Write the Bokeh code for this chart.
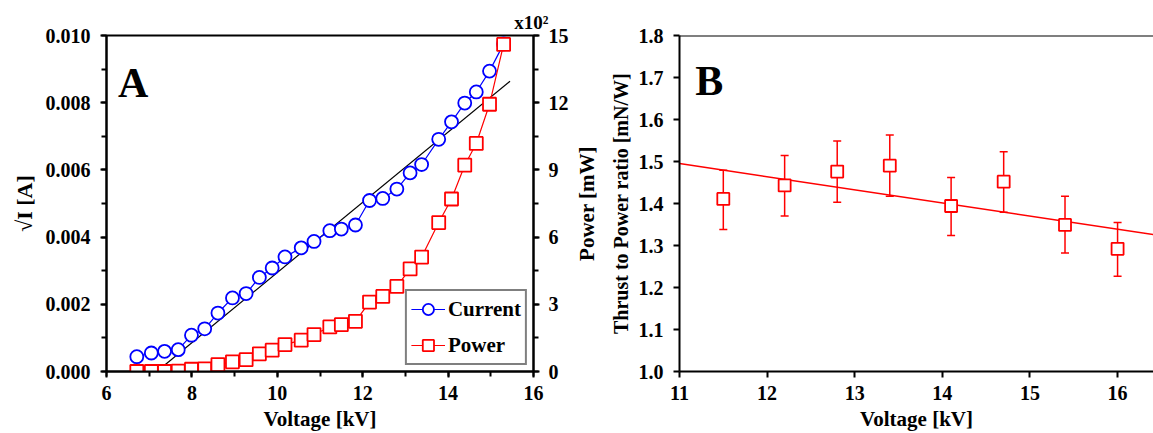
from bokeh.plotting import figure
from bokeh.layouts import row
from bokeh.models import (LinearAxis, Range1d, SingleIntervalTicker, FixedTicker,
                          PrintfTickFormatter, Legend, LegendItem, Label, Span,
                          Whisker, TeeHead, ColumnDataSource)
from bokeh.embed import file_html
from bokeh.resources import INLINE

# ---------------- Panel A data ----------------
voltage_a = [6.71, 7.05, 7.36, 7.68, 7.99, 8.30, 8.61, 8.95, 9.27, 9.58, 9.88, 10.18,
             10.56, 10.86, 11.23, 11.50, 11.83, 12.16, 12.47, 12.80, 13.11, 13.38,
             13.78, 14.08, 14.39, 14.66, 14.97, 15.30]
sqrt_current = [0.00044, 0.00055, 0.00060, 0.00065, 0.00108, 0.00127, 0.00174, 0.00219,
                0.00232, 0.00280, 0.00308, 0.00341, 0.00368, 0.00387, 0.00419, 0.00424,
                0.00436, 0.00509, 0.00515, 0.00543, 0.00591, 0.00616, 0.00691, 0.00743,
                0.00799, 0.00832, 0.00894, 0.00975]
power_mw = [0, 0, 0, 2, 10, 12, 31, 43, 53, 79, 95, 120, 140, 165, 199, 209, 224,
            310, 335, 380, 458, 511, 665, 770, 921, 1018, 1193, 1460]
fit_a_v = [7.18, 15.45]
fit_a_i = [0.0, 0.00864]

# ---------------- Panel B data ----------------
voltage_b = [11.5, 12.2, 12.8, 13.4, 14.1, 14.7, 15.4, 16.0]
ratio_b = [1.411, 1.443, 1.476, 1.490, 1.394, 1.452, 1.349, 1.292]
ratio_hi = [1.479, 1.514, 1.549, 1.563, 1.462, 1.523, 1.417, 1.355]
ratio_lo = [1.338, 1.370, 1.403, 1.417, 1.324, 1.379, 1.282, 1.227]
fit_b_v = [11.0, 16.6]
fit_b_r = [1.495, 1.320]

FONT = "Liberation Serif"
FS = "20px"
BLUE = "#0000FF"
RED = "#FF0000"


def style_axis(ax, minor=True):
    ax.axis_line_width = 2
    ax.axis_line_color = "black"
    ax.major_tick_line_width = 2
    ax.major_tick_out = 6
    ax.major_tick_in = 0
    if minor:
        ax.minor_tick_line_width = 2
        ax.minor_tick_out = 5
        ax.minor_tick_in = 0
    else:
        ax.minor_tick_line_color = None
    ax.major_label_text_font = FONT
    ax.major_label_text_font_style = "bold"
    ax.major_label_text_font_size = FS
    ax.major_label_text_color = "black"
    ax.axis_label_text_font = FONT
    ax.axis_label_text_font_style = "bold"
    ax.axis_label_text_font_size = "21px"
    ax.axis_label_text_color = "black"


# ================= Panel A =================
pa = figure(width=571, height=433, output_backend="svg", toolbar_location=None,
            x_range=Range1d(6, 16), y_range=Range1d(0, 0.010),
            min_border_left=106, min_border_right=35, min_border_top=35,
            min_border_bottom=61)
pa.grid.visible = False
pa.outline_line_color = "black"
pa.outline_line_width = 2
pa.background_fill_color = "white"
pa.border_fill_color = "white"

pa.title.text = "x10²"
pa.title.align = "right"
pa.title.offset = -15
pa.title.standoff = 6
pa.title.text_font = FONT
pa.title.text_font_style = "bold"
pa.title.text_font_size = "19px"
pa.title.text_color = "black"

pa.xaxis.ticker = SingleIntervalTicker(interval=2, num_minor_ticks=2)
pa.yaxis.ticker = SingleIntervalTicker(interval=0.002, num_minor_ticks=2)
pa.yaxis.formatter = PrintfTickFormatter(format="%.3f")
pa.xaxis.axis_label = "Voltage [kV]"
pa.yaxis.axis_label = "√I [A]"
style_axis(pa.xaxis[0])
style_axis(pa.yaxis[0])
pa.yaxis.axis_label_text_font_size = "22px"
pa.xaxis.major_label_standoff = 8
pa.yaxis.major_label_standoff = 10
pa.xaxis.axis_label_standoff = 4
pa.yaxis.axis_label_standoff = 6

# right-hand power axis (tick values in units of 10^2 mW)
pa.extra_y_ranges = {"power": Range1d(0, 15)}
rax = LinearAxis(y_range_name="power",
                 ticker=SingleIntervalTicker(interval=3, num_minor_ticks=2))
style_axis(rax)
rax.major_label_standoff = 9
pa.add_layout(rax, "right")

pa.line(fit_a_v, fit_a_i, line_color="black", line_width=1.2)
power_h = [p / 100.0 for p in power_mw]
cl = pa.line(voltage_a, sqrt_current, line_color=BLUE, line_width=1.2)
cs = pa.scatter(voltage_a, sqrt_current, marker="circle", size=13,
                fill_color="white", line_color=BLUE, line_width=1.8)
pl = pa.line(voltage_a, power_h, line_color=RED, line_width=1.2, y_range_name="power")
ps = pa.scatter(voltage_a, power_h, marker="square", size=13, fill_color="white",
                line_color=RED, line_width=1.8, y_range_name="power")

legend = Legend(items=[LegendItem(label="Current", renderers=[cl, cs]),
                       LegendItem(label="Power", renderers=[pl, ps])],
                location="bottom_right")
legend.label_text_font = FONT
legend.label_text_font_style = "bold"
legend.label_text_font_size = "21px"
legend.label_text_color = "black"
legend.glyph_width = 34
legend.glyph_height = 28
legend.label_height = 28
legend.spacing = 8
legend.padding = 4
legend.margin = 6
legend.label_standoff = 3
legend.border_line_color = "black"
legend.border_line_width = 2
legend.background_fill_alpha = 1
pa.add_layout(legend)

pa.add_layout(Label(x=6.27, y=0.0086, text="A", text_font=FONT,
                    text_font_style="bold", text_font_size="42px",
                    text_color="black", text_baseline="alphabetic"))

# ================= Panel B =================
pb = figure(width=582, height=433, output_backend="svg", toolbar_location=None,
            x_range=Range1d(11, 16.41), y_range=Range1d(1.0, 1.8),
            min_border_left=105, min_border_right=0, min_border_top=35,
            min_border_bottom=61)
pb.grid.visible = False
pb.outline_line_color = None
pb.background_fill_color = "white"
pb.border_fill_color = "white"
pb.xaxis.ticker = FixedTicker(ticks=[11, 12, 13, 14, 15, 16])
pb.yaxis.ticker = FixedTicker(ticks=[1.0, 1.1, 1.2, 1.3, 1.4, 1.5, 1.6, 1.7, 1.8])
pb.yaxis.formatter = PrintfTickFormatter(format="%.1f")
pb.xaxis.axis_label = "Voltage [kV]"
pb.yaxis.axis_label = "Thrust to Power ratio [mN/W]"
style_axis(pb.xaxis[0], minor=False)
style_axis(pb.yaxis[0], minor=False)
pb.yaxis.axis_label_text_font_size = "20px"
pb.xaxis.major_label_standoff = 8
pb.yaxis.major_label_standoff = 10
pb.xaxis.axis_label_standoff = 4
pb.yaxis.axis_label_standoff = 4

# title of panel A's right-hand (power) axis, drawn in the gap between the panels
power_title = LinearAxis(ticker=FixedTicker(ticks=[]), axis_label="Power [mW]")
style_axis(power_title, minor=False)
power_title.axis_line_color = None
power_title.major_tick_line_color = None
power_title.major_tick_out = 0
power_title.minor_tick_out = 0
power_title.major_label_standoff = 0
power_title.axis_label_standoff = 8
pb.add_layout(power_title, "left")

pb.add_layout(Span(location=1.8, dimension="width", line_color="black", line_width=2))

pb.line(fit_b_v, fit_b_r, line_color=RED, line_width=1.5)
src_b = ColumnDataSource(dict(v=voltage_b, r=ratio_b, hi=ratio_hi, lo=ratio_lo))
wh = Whisker(source=src_b, base="v", upper="hi", lower="lo", dimension="height",
             line_color=RED, line_width=1.5, level="underlay",
             upper_head=TeeHead(size=8, line_color=RED, line_width=1.5),
             lower_head=TeeHead(size=8, line_color=RED, line_width=1.5))
pb.add_layout(wh)
pb.scatter("v", "r", source=src_b, marker="square", size=12, fill_color="white",
           line_color=RED, line_width=1.8)
pb.add_layout(Label(x=11.18, y=1.691, text="B", text_font=FONT,
                    text_font_style="bold", text_font_size="42px",
                    text_color="black", text_baseline="alphabetic"))

layout = row(pa, pb)
open("out.html", "w").write(file_html(layout, INLINE))
